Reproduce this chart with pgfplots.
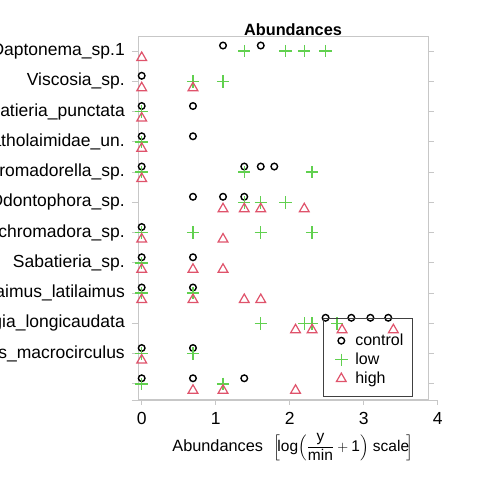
\documentclass[border=0pt]{standalone}
\usepackage{pgfplots}
\pgfplotsset{compat=1.18}
\usepackage{amsmath}
\usepackage{fontspec}
\setmainfont{Liberation Sans}
\definecolor{lowc}{HTML}{61D04F}
\definecolor{highc}{HTML}{DF536B}
\definecolor{boxc}{gray}{0.78}
\pgfplotsset{myleg/.style={legend image code/.code={%
  \path[draw=none] (-10pt,0pt) -- (7pt,0pt);
  \draw[##1] plot coordinates {(0pt,-2pt)};}}}
\begin{document}
\begin{tikzpicture}[x=1pt,y=1pt]
\begin{axis}[
  at={(138pt,81pt)}, anchor=south west,
  scale only axis, width=290pt, height=363pt,
  xmin=-0.05, xmax=3.869, ymin=0.5, ymax=12.5,
  axis line style={boxc, line width=0.8pt},
  xtick=\empty,
  ytick={1,...,12},
  yticklabels={{}, Sphaerolaimus\_macrocirculus, Terschellingia\_longicaudata, Leptolaimus\_latilaimus, Sabatieria\_sp., Neochromadora\_sp., Odontophora\_sp., Chromadorella\_sp., Cyatholaimidae\_un., Sabatieria\_punctata, Viscosia\_sp., Daptonema\_sp.1},
  tick align=outside, major tick length=6pt,
  ytick style={boxc, line width=0.8pt},
  yticklabel style={font=\fontsize{17.5}{20}\selectfont, anchor=east, inner sep=0pt, xshift=-7pt},
  clip=false,
  legend cell align=left,
  legend style={at={(axis description cs:0.638,0.0055)}, anchor=south west,
    draw=black!75, line width=0.6pt, fill=none,
    font=\fontsize{16}{19}\selectfont,
    inner xsep=8pt, inner ysep=11.5pt,
    nodes={inner sep=1pt, text height=14.5pt, text depth=0.5pt},
    row sep=2pt,
    /tikz/every odd column/.append style={column sep=6pt}},
]
\addplot[only marks, black, draw=black, mark=o, mark size=3.3pt, mark options={draw=black, line width=1.4pt}, myleg] table {
x y
1.099 12.185
1.609 12.185
0 11.185
0 10.185
0.693 10.185
0 9.185
0.693 9.185
0 8.185
1.386 8.185
1.609 8.185
1.792 8.185
0.693 7.185
1.099 7.185
1.386 7.185
0 6.185
0 5.185
0.693 5.185
0 4.185
0.693 4.185
2.485 3.185
2.833 3.185
3.091 3.185
3.332 3.185
0 2.185
0.693 2.185
0 1.185
0.693 1.185
1.386 1.185
};
\addlegendentry{control}
\addplot[only marks, lowc, draw=lowc, mark=+, mark size=6.2pt, mark options={draw=lowc, line width=1.3pt}, myleg] table {
x y
1.386 12
1.946 12
2.197 12
2.485 12
0.693 11
1.099 11
0 10
0 9
0 8
1.386 8
2.303 8
1.386 7
1.609 7
1.946 7
0 6
0.693 6
1.609 6
2.303 6
0 5
0 4
0.693 4
1.609 3
2.197 3
2.303 3
2.639 3
0 2
0.693 2
0 1
1.099 1
};
\addlegendentry{low}
\addplot[only marks, highc, draw=highc, mark=triangle, mark size=5.6pt, mark options={draw=highc, line width=1.2pt}, myleg] table {
x y
0 11.785
0 10.785
0.693 10.785
0 9.785
0 8.785
0 7.785
1.099 6.785
1.386 6.785
1.609 6.785
2.197 6.785
0 5.785
1.099 5.785
0 4.785
0.693 4.785
1.099 4.785
0 3.785
0.693 3.785
1.386 3.785
1.609 3.785
2.079 2.785
2.303 2.785
2.708 2.785
3.401 2.785
0 1.785
0.693 0.785
1.099 0.785
2.079 0.785
};
\addlegendentry{high}
\end{axis}
\begin{axis}[
  at={(131.7pt,80pt)}, anchor=south west,
  scale only axis, width=306pt, height=363pt,
  xmin=-0.135, xmax=4, ymin=0, ymax=1,
  axis x line*=bottom, axis y line=none,
  axis line style={boxc, line width=0.8pt, -},
  xtick={0,1,2,3,4}, xticklabels={0,1,2,3,4},
  tick align=outside, major tick length=5pt,
  xtick style={boxc, line width=0.8pt},
  xticklabel style={font=\fontsize{17.5}{20}\selectfont, anchor=north, inner sep=0pt, yshift=-7pt},
]
\end{axis}
\node[anchor=base, font=\bfseries\fontsize{16.3}{19}\selectfont] at (293,444.3) {Abundances};
\node[anchor=center, font=\fontsize{16.3}{20}\selectfont] at (293,33) {Abundances\hspace{10pt}{\fontsize{15.5}{18}\selectfont$\left[\!\text{log}\!\left(\dfrac{\text{y}}{\text{min}}+\text{1}\right)\!\text{ scale}\!\right]$}};
\pgfresetboundingbox
\useasboundingbox (0,0) rectangle (480,480);
\end{tikzpicture}
\end{document}
